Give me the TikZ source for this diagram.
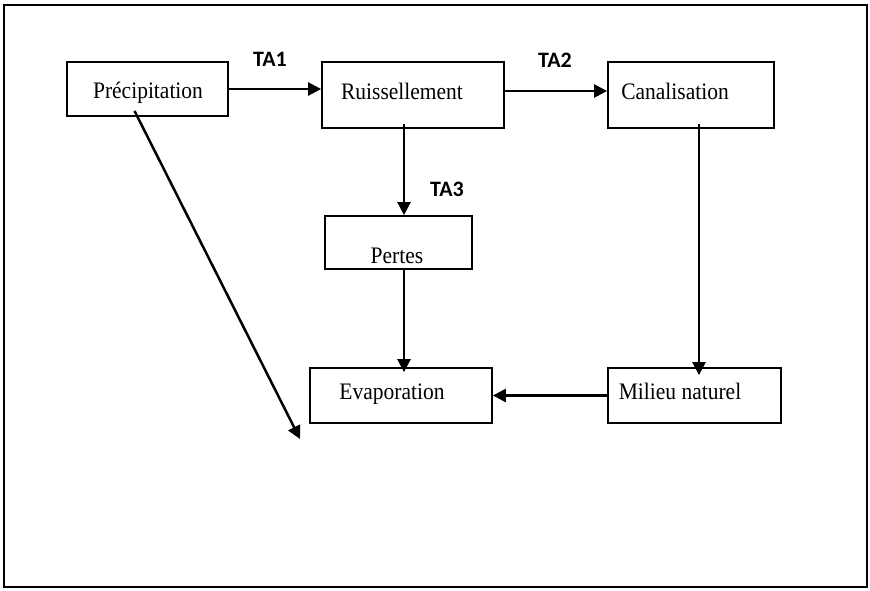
\documentclass[tikz,border=0pt]{standalone}
\usepackage{fontspec}
\setmainfont{Liberation Serif}
\newfontfamily\labfont{Carlito}
\usetikzlibrary{arrows.meta}
\tikzset{
  boxnode/.style={draw, line width=1.8pt, inner sep=0pt, minimum width=#1},
  txt/.style={anchor=base, inner sep=0pt, font=\fontsize{21.5}{24}\selectfont},
  talab/.style={anchor=base, inner sep=0pt, font=\labfont\bfseries\fontsize{22}{24}\selectfont},
  arr/.style={line width=2.5pt, -{Triangle[length=13pt,width=13pt]}}
}
\begin{document}
\begin{tikzpicture}[x=1pt,y=-1pt]
\useasboundingbox (0,0) rectangle (870,590);
\draw[line width=2.6pt] (4,5) rectangle (867,587);
% boxes
\node[boxnode=161pt, minimum height=54pt] (prec) at (147.5,89) {};
\node[boxnode=182pt, minimum height=66pt] (ruis) at (413,95) {};
\node[boxnode=166pt, minimum height=66pt] (cana) at (691,95) {};
\node[boxnode=147pt, minimum height=53pt] (pert) at (398.5,242.5) {};
\node[boxnode=182pt, minimum height=55pt] (evap) at (401,395.5) {};
\node[boxnode=173pt, minimum height=55pt] (mil) at (694.5,395.5) {};
% texts
\node[txt] (tprec) at (148,98) {\scalebox{1}[1.1]{Précipitation}};
\node[txt] (truis) at (402,99) {\scalebox{1}[1.1]{Ruissellement}};
\node[txt] (tcana) at (675,99) {\scalebox{1}[1.1]{Canalisation}};
\node[txt] (tpert) at (397,263) {\scalebox{1}[1.1]{Pertes}};
\node[txt] (tevap) at (392,399) {\scalebox{1}[1.1]{Evaporation}};
\node[txt] (tmil) at (680,399) {\scalebox{1}[1.1]{Milieu naturel}};
% labels
\node[talab] (ta1) at (270,66) {TA1};
\node[talab] (ta2) at (555,67) {TA2};
\node[talab] (ta3) at (447,196) {TA3};
% arrows
\coordinate (dend) at (300,439);
\draw[arr] (prec.east) -- (prec.east -| ruis.west);
\draw[arr] ([yshift=4pt]ruis.east) -- ([yshift=4pt]ruis.east -| cana.west);
\draw[arr] ([xshift=-9pt,yshift=5pt]ruis.south) -- ([xshift=-9pt]ruis.south |- pert.north);
\draw[arr, shorten >=-5pt] ([xshift=5.5pt]pert.south) -- ([xshift=5.5pt]pert.south |- evap.north);
\draw[arr, shorten >=-8pt] ([xshift=8pt,yshift=5pt]cana.south) -- ([xshift=8pt]cana.south |- mil.north);
\draw[arr] (mil.west) -- (evap.east);
\draw[arr] ([xshift=-13pt,yshift=6pt]prec.south) -- (dend);
\end{tikzpicture}
\end{document}
